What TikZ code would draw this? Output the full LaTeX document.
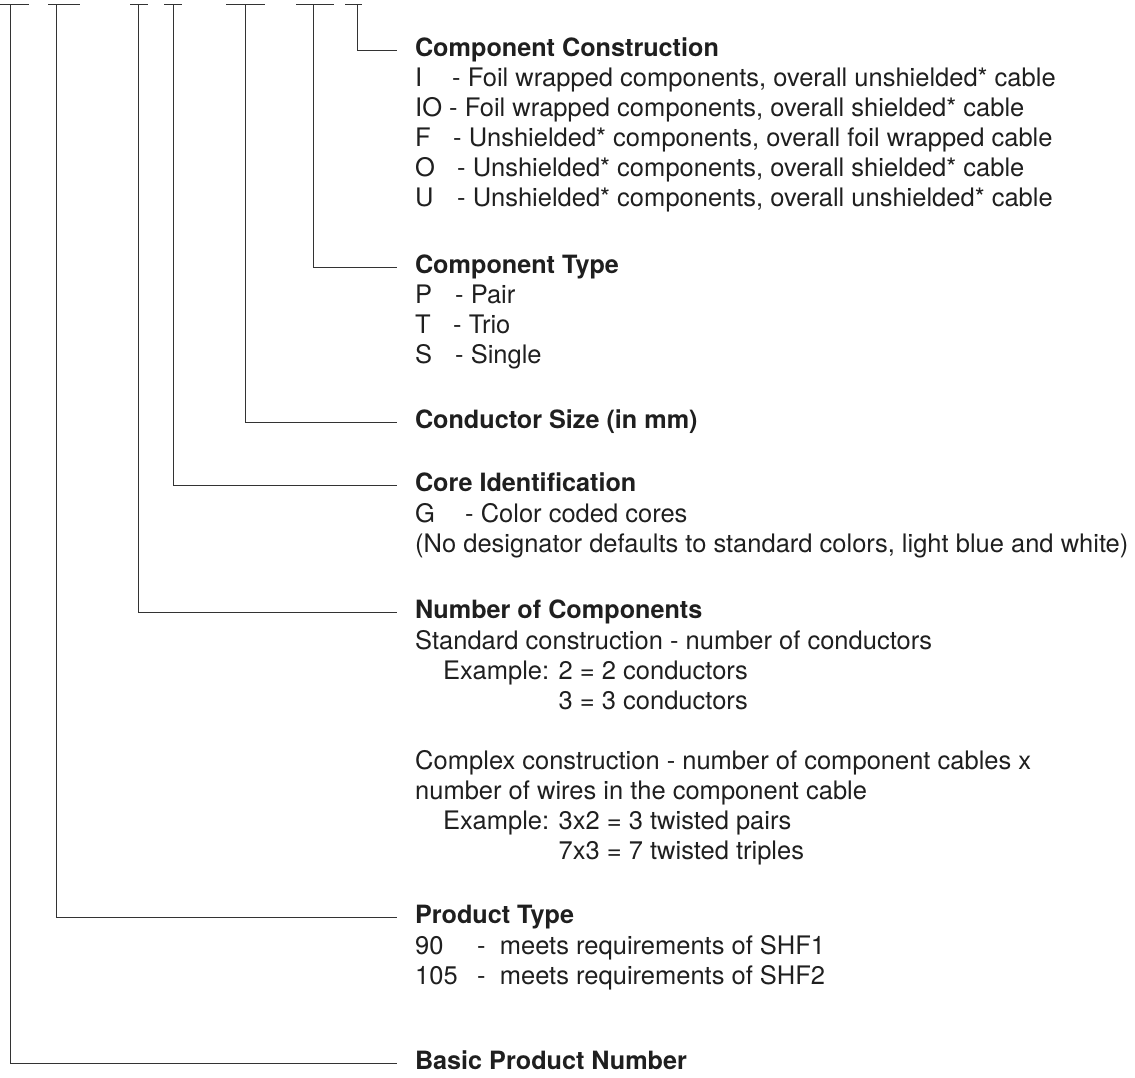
\documentclass[tikz,border=0pt]{standalone}
\usepackage{fontspec}
\setmainfont{TeX Gyre Heros}
\usetikzlibrary{positioning}

\newcommand{\dsg}[2]{\makebox[#1][l]{#2}}

\begin{document}
\begin{tikzpicture}[
    x=1pt, y=-1pt,
    every node/.style={text=black!88},
    head/.style={font=\fontsize{25.2}{30}\selectfont\bfseries, anchor=west,
                 inner sep=0pt, outer xsep=18pt, text height=18pt, text depth=6pt},
    items/.style={font=\fontsize{25.5}{30}\selectfont, align=left, inner sep=0pt},
    tbar/.style={line width=1pt, black!80},
    leader/.style={line width=1pt, black!80}
]
\useasboundingbox (0,0) rectangle (1135,1077);

\node[head] (cc) at (397,50) {Component Construction};
\node[items, below right=6pt and 18pt of cc.south west] (ccl) {%
    \dsg{37pt}{I}- Foil wrapped components, overall unshielded* cable\\
    IO - Foil wrapped components, overall shielded* cable\\
    \dsg{38pt}{F}- Unshielded* components, overall foil wrapped cable\\
    \dsg{42pt}{O}- Unshielded* components, overall shielded* cable\\
    \dsg{42pt}{U}- Unshielded* components, overall unshielded* cable};

\node[head] (ct) at (397,267) {Component Type};
\node[items, below right=6pt and 18pt of ct.south west] (ctl) {%
    \dsg{40pt}{P}- Pair\\
    \dsg{38pt}{T}- Trio\\
    \dsg{40pt}{S}- Single};

\node[head] (cs) at (397,422) {Conductor Size (in mm)};

\node[head] (ci) at (397,485) {Core Identification};
\node[items, below right=6pt and 18pt of ci.south west] (cil) {%
    \dsg{50pt}{G}- Color coded cores\\
    (No designator defaults to standard colors, light blue and white)};

\node[head] (nc) at (397,612) {Number of Components};
\node[items, below right=6pt and 18pt of nc.south west] (ncl) {%
    Standard construction - number of conductors\\
    \hspace*{28pt}Example: 2 = 2 conductors\\
    \hspace*{28pt}\phantom{Example: }3 = 3 conductors\\[30pt]
    Complex construction - number of component cables x\\
    number of wires in the component cable\\
    \hspace*{28pt}Example: 3x2 = 3 twisted pairs\\
    \hspace*{28pt}\phantom{Example: }7x3 = 7 twisted triples};

\node[head] (pt) at (397,917) {Product Type};
\node[items, below right=6pt and 18pt of pt.south west] (ptl) {%
    \dsg{62pt}{90}- ~meets requirements of SHF1\\
    \dsg{62pt}{105}- ~meets requirements of SHF2};

\node[head, text height=14pt, text depth=2pt] (bpn) at (397,1063) {Basic Product Number};

% code bars along the top, each one led down to its heading
\foreach \xa/\xv/\xb/\hd in {0/10/29/bpn, 48/56/80/pt, 130/138/148/nc,
    164/173/182/ci, 226/245/265/cs, 296/313/334/ct, 345/357/362/cc} {
    \coordinate (top-\hd) at (\xv,4);
    \draw[tbar] (\xa,4) -- (\xb,4);
    \draw[leader] (top-\hd) |- (\hd.west);
}
\end{tikzpicture}
\end{document}
